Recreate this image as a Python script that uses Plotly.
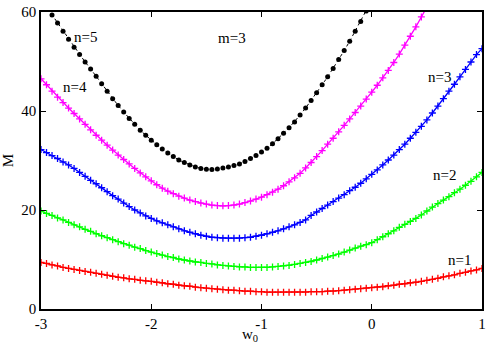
import plotly.graph_objects as go

# x grid (w0) shared by all curves
w0 = [round(-3 + 0.05 * i, 2) for i in range(81)]

m_n1 = [9.4, 9.2, 8.9, 8.7, 8.4, 8.2, 8.0, 7.8, 7.6, 7.4,
        7.2, 7.0, 6.8, 6.6, 6.4, 6.3, 6.1, 6.0, 5.8, 5.7,
        5.6, 5.4, 5.3, 5.1, 5.0, 4.8, 4.7, 4.6, 4.4, 4.3,
        4.2, 4.1, 4.0, 3.9, 3.8, 3.8, 3.7, 3.6, 3.6, 3.5,
        3.5, 3.4, 3.4, 3.4, 3.4, 3.4, 3.4, 3.4, 3.4, 3.5,
        3.5, 3.5, 3.6, 3.6, 3.7, 3.8, 3.9, 4.0, 4.1, 4.2,
        4.3, 4.4, 4.5, 4.7, 4.8, 5.0, 5.1, 5.3, 5.4, 5.6,
        5.8, 6.0, 6.2, 6.5, 6.7, 6.9, 7.2, 7.4, 7.7, 7.9,
        8.2]

m_n2 = [19.8, 19.3, 18.9, 18.4, 18.0, 17.5, 17.0, 16.6, 16.1, 15.7,
        15.2, 14.8, 14.4, 14.0, 13.6, 13.2, 12.9, 12.5, 12.2, 11.8,
        11.5, 11.2, 10.9, 10.6, 10.4, 10.1, 9.9, 9.7, 9.5, 9.4,
        9.2, 9.1, 8.9, 8.8, 8.7, 8.6, 8.5, 8.5, 8.4, 8.4,
        8.4, 8.4, 8.5, 8.6, 8.7, 8.8, 9.0, 9.2, 9.4, 9.6,
        9.9, 10.2, 10.5, 10.8, 11.1, 11.5, 11.9, 12.3, 12.7, 13.0,
        13.4, 14.0, 14.6, 15.2, 15.8, 16.5, 17.1, 17.7, 18.3, 19.0,
        19.8, 20.6, 21.3, 22.0, 22.7, 23.5, 24.2, 25.0, 25.8, 26.7,
        27.6]

m_n3 = [32.2, 31.6, 31.0, 30.4, 29.7, 29.1, 28.4, 27.6, 26.8, 26.0,
        25.3, 24.5, 23.7, 22.9, 22.2, 21.4, 20.7, 20.0, 19.4, 18.8,
        18.3, 17.8, 17.4, 17.0, 16.6, 16.2, 15.8, 15.5, 15.2, 14.9,
        14.7, 14.5, 14.4, 14.3, 14.3, 14.3, 14.3, 14.4, 14.5, 14.7,
        14.9, 15.2, 15.5, 15.8, 16.2, 16.6, 17.0, 17.5, 18.0, 18.9,
        19.6, 20.3, 21.0, 21.7, 22.4, 23.1, 23.9, 24.6, 25.4, 26.3,
        27.2, 28.1, 29.1, 30.1, 31.1, 32.2, 33.3, 34.5, 35.7, 36.9,
        38.2, 39.6, 41.0, 42.5, 44.0, 45.4, 46.9, 48.4, 49.9, 51.4,
        52.6]

m_n4 = [46.5, 45.3, 44.0, 42.8, 41.7, 40.6, 39.5, 38.4, 37.3, 36.2,
        35.1, 34.1, 33.1, 32.1, 31.1, 30.2, 29.3, 28.4, 27.5, 26.7,
        25.9, 25.1, 24.4, 23.8, 23.3, 22.8, 22.4, 22.0, 21.7, 21.4,
        21.2, 21.0, 20.9, 20.85, 20.9, 21.0, 21.2, 21.5, 21.8, 22.2,
        22.6, 23.1, 23.6, 24.2, 24.9, 25.7, 26.5, 27.4, 28.5, 29.6,
        30.8, 32.0, 33.3, 34.5, 35.8, 37.1, 38.4, 39.7, 41.0, 42.4,
        43.8, 45.2, 46.7, 48.2, 49.8, 51.5, 53.3, 55.1, 57.0, 59.0,
        61.0, 63.0]

m_n5 = [62.6, 61.0, 59.4, 57.8, 56.1, 54.5, 52.9, 51.4, 49.9, 48.5,
        47.0, 45.5, 44.0, 42.5, 41.1, 39.8, 38.5, 37.3, 36.1, 35.1,
        34.1, 33.2, 32.3, 31.5, 30.8, 30.1, 29.6, 29.1, 28.7, 28.4,
        28.25, 28.2, 28.3, 28.5, 28.7, 29.0, 29.3, 29.8, 30.4, 31.0,
        31.7, 32.5, 33.4, 34.4, 35.5, 36.6, 37.8, 39.2, 40.6, 42.1,
        43.7, 45.3, 46.9, 48.6, 50.4, 52.2, 54.1, 56.1, 58.1, 60.2,
        62.4]

labels = ["n=5", "m=3", "n=4", "n=3", "n=2", "n=1"]
label_x = [-2.6, -1.27, -2.69, 0.61, 0.66, 0.8]
label_y = [54.9, 54.7, 44.8, 46.8, 27.0, 9.9]

x_ticks = [-3, -2, -1, 0, 1]
y_ticks = [0, 20, 40, 60]

FONT = "Liberation Serif, Times New Roman, serif"

fig = go.Figure()

colored = [(m_n1, "#ff0000"), (m_n2, "#00ff00"), (m_n3, "#0000ff"), (m_n4, "#ff00ff")]
for ys, col in colored:
    fig.add_trace(go.Scatter(
        x=w0[:len(ys)], y=ys, mode="lines+markers",
        line=dict(color=col, width=1.3),
        marker=dict(symbol="cross-thin", size=5, line=dict(color=col, width=1.3)),
        showlegend=False, cliponaxis=True))

fig.add_trace(go.Scatter(
    x=w0[:len(m_n5)], y=m_n5, mode="lines+markers",
    line=dict(color="black", width=1, dash="dot"),
    marker=dict(symbol="circle", size=5, color="black"),
    showlegend=False, cliponaxis=True))

for t, xx, yy in zip(labels, label_x, label_y):
    fig.add_annotation(x=xx, y=yy, text=t, showarrow=False,
                       font=dict(family=FONT, size=15, color="black"))

# x-axis title placed just under the tick labels
fig.add_annotation(xref="paper", yref="paper", x=0.475, y=-0.05, yanchor="top",
                   text="w<sub>0</sub>", showarrow=False,
                   font=dict(family=FONT, size=15, color="black"))

axis_common = dict(showgrid=False, zeroline=False, showline=True, linecolor="black",
                   linewidth=1.5, mirror="ticks", ticks="inside", ticklen=5,
                   tickcolor="black", automargin=False,
                   tickfont=dict(family=FONT, size=15, color="black"))

fig.update_xaxes(range=[-3, 1], tickvals=x_ticks, ticktext=[str(v) for v in x_ticks],
                 **axis_common)
fig.update_yaxes(range=[0, 60], tickvals=y_ticks, ticktext=[str(v) for v in y_ticks],
                 title=dict(text="M", font=dict(family=FONT, size=15, color="black"),
                            standoff=6), **axis_common)

fig.update_layout(width=500, height=350, margin=dict(l=41, r=18, t=12, b=41),
                  plot_bgcolor="white", paper_bgcolor="white")

# remove the default page margin so the figure sits at the window's corner
fig.write_html("out.html", config={"displayModeBar": False},
               post_script="document.body.style.margin='0';")
